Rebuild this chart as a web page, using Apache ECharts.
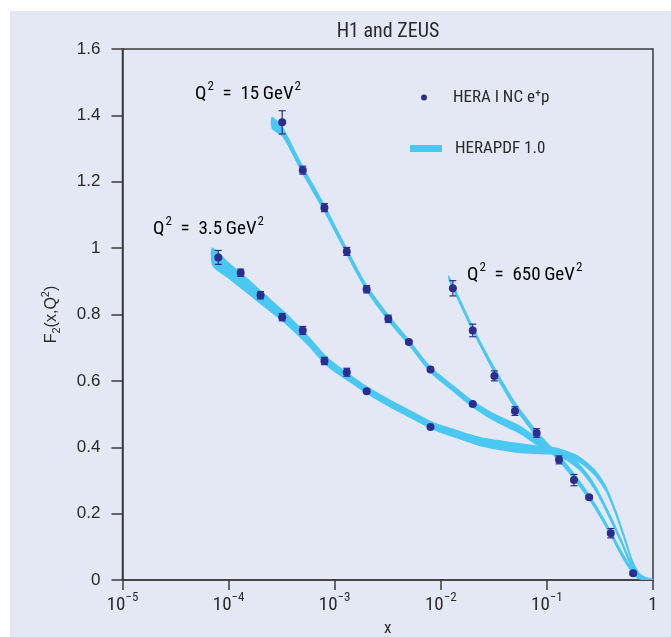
<!DOCTYPE html>
<html>
<head>
<meta charset="utf-8">
<title>F2 at HERA</title>
<script src="https://cdn.jsdelivr.net/npm/echarts@6.0.0/dist/echarts.min.js"></script>
<style>
  html, body { margin: 0; background: #ffffff; }
  #chart { position: absolute; left: 10px; top: 11px; width: 661px; height: 626px; }
</style>
</head>
<body>
<div id="chart"></div>
<script>
// ---- measured F2 points (HERA I NC e+p), value and total error ----
const x35  = [8e-5, 1.3e-4, 2e-4, 3.2e-4, 5e-4, 8e-4, 1.3e-3, 2e-3, 8e-3];
const f35  = [0.972, 0.926, 0.858, 0.792, 0.752, 0.660, 0.626, 0.569, 0.461];
const e35  = [0.021, 0.011, 0.011, 0.011, 0.012, 0.011, 0.012, 0.005, 0.004];

const x15  = [3.2e-4, 5e-4, 8e-4, 1.3e-3, 2e-3, 3.2e-3, 5e-3, 8e-3, 2e-2];
const f15  = [1.379, 1.235, 1.122, 0.990, 0.876, 0.787, 0.717, 0.634, 0.530];
const e15  = [0.035, 0.012, 0.012, 0.012, 0.011, 0.011, 0.005, 0.005, 0.005];

const x650 = [0.013, 0.02, 0.032, 0.05, 0.08, 0.13, 0.18, 0.25, 0.4, 0.65];
const f650 = [0.879, 0.752, 0.615, 0.509, 0.443, 0.362, 0.301, 0.249, 0.141, 0.020];
const e650 = [0.023, 0.019, 0.015, 0.013, 0.013, 0.012, 0.017, 0.005, 0.014, 0.005];

// ---- HERAPDF 1.0 uncertainty bands: central value and half width ----
const band35X    = [7e-5, 1e-4, 1.5e-4, 2.2e-4, 3.4e-4, 5.4e-4, 8.5e-4, 1.3e-3, 2.1e-3, 3.5e-3, 5.5e-3, 8.5e-3, 0.014, 0.023, 0.035, 0.056, 0.1, 0.13, 0.2, 0.28, 0.36, 0.45, 0.55, 0.65, 0.75, 0.85, 1];
const band35Mid  = [0.975, 0.933, 0.886, 0.841, 0.790, 0.727, 0.658, 0.614, 0.569, 0.528, 0.495, 0.464, 0.440, 0.418, 0.407, 0.397, 0.390, 0.386, 0.364, 0.325, 0.275, 0.200, 0.118, 0.048, 0.014, 0.004, 0];
const band35Half = [0.027, 0.025, 0.023, 0.021, 0.018, 0.016, 0.015, 0.013, 0.012, 0.012, 0.012, 0.012, 0.013, 0.014, 0.015, 0.015, 0.012, 0.011, 0.010, 0.010, 0.010, 0.010, 0.010, 0.009, 0.007, 0.005, 0.003];

const band15X    = [2.55e-4, 3.2e-4, 5e-4, 8e-4, 1.3e-3, 2e-3, 3.2e-3, 5e-3, 8e-3, 0.013, 0.02, 0.032, 0.056, 0.1, 0.15, 0.2, 0.25, 0.3, 0.4, 0.5, 0.6, 0.7, 0.8, 0.9, 1];
const band15Mid  = [1.378, 1.352, 1.235, 1.120, 0.990, 0.880, 0.790, 0.716, 0.634, 0.578, 0.530, 0.490, 0.452, 0.397, 0.372, 0.342, 0.305, 0.265, 0.185, 0.118, 0.058, 0.020, 0.006, 0.002, 0];
const band15Half = [0.018, 0.016, 0.014, 0.013, 0.012, 0.011, 0.011, 0.010, 0.010, 0.010, 0.011, 0.012, 0.013, 0.012, 0.011, 0.010, 0.010, 0.010, 0.010, 0.009, 0.009, 0.007, 0.005, 0.004, 0.003];

const band650X    = [0.0118, 0.013, 0.02, 0.032, 0.05, 0.08, 0.1, 0.13, 0.18, 0.25, 0.32, 0.4, 0.5, 0.6, 0.7, 0.8, 0.9, 1];
const band650Mid  = [0.912, 0.884, 0.757, 0.632, 0.527, 0.440, 0.405, 0.368, 0.312, 0.250, 0.195, 0.140, 0.082, 0.040, 0.012, 0.004, 0.001, 0];
const band650Half = [0.008, 0.010, 0.010, 0.011, 0.011, 0.011, 0.011, 0.011, 0.011, 0.010, 0.010, 0.010, 0.010, 0.009, 0.007, 0.005, 0.004, 0.003];

// axis ranges
const xMin = 1e-5, xMax = 1;
const yMin = 0, yMax = 1.6, yStep = 0.2;

const PT = '#2b2e8e';
const BAND = '#4bc8f2';
const AXIS = '#3a3a3a';
const TXT = '#2a2a2a';
const COND = "'Roboto Condensed','Liberation Sans Narrow','DejaVu Sans Condensed',sans-serif";
const REG = "'Liberation Sans',Arial,sans-serif";

function bandSeries(xs, mid, half) {
  return {
    type: 'custom',
    name: 'HERAPDF 1.0',
    coordinateSystem: 'cartesian2d',
    clip: true,
    z: 1,
    itemStyle: { color: BAND },
    data: [[xs[0], mid[0]]],
    renderItem: function (params, api) {
      const upper = xs.map((x, i) => api.coord([x, mid[i] + half[i]]));
      const lower = xs.map((x, i) => api.coord([x, mid[i] - half[i]])).reverse();
      return {
        type: 'polygon',
        shape: { points: upper.concat(lower), smooth: 0.25 },
        style: { fill: BAND }
      };
    }
  };
}

function errorSeries(xs, ys, es) {
  return {
    type: 'custom',
    name: 'HERA I NC e⁺p errors',
    coordinateSystem: 'cartesian2d',
    z: 2,
    data: xs.map((x, i) => [x, ys[i], es[i]]),
    renderItem: function (params, api) {
      const x = api.value(0), y = api.value(1), e = api.value(2);
      const hi = api.coord([x, y + e]);
      const lo = api.coord([x, y - e]);
      const w = 3.5;
      const st = { stroke: PT, lineWidth: 1.2 };
      return {
        type: 'group',
        children: [
          { type: 'line', shape: { x1: hi[0], y1: hi[1], x2: lo[0], y2: lo[1] }, style: st },
          { type: 'line', shape: { x1: hi[0] - w, y1: hi[1], x2: hi[0] + w, y2: hi[1] }, style: st },
          { type: 'line', shape: { x1: lo[0] - w, y1: lo[1], x2: lo[0] + w, y2: lo[1] }, style: st }
        ]
      };
    }
  };
}

const points = []
  .concat(x35.map((x, i) => [x, f35[i]]))
  .concat(x15.map((x, i) => [x, f15[i]]))
  .concat(x650.map((x, i) => [x, f650[i]]));

const supRich = {
  n: { fontFamily: COND, fontSize: 19, color: TXT, lineHeight: 24, verticalAlign: 'bottom' },
  s: { fontFamily: COND, fontSize: 13, color: TXT, lineHeight: 24, verticalAlign: 'top', padding: [0, 0, 0, 1] }
};

function qLabel(x, y, val) {
  return {
    type: 'text', x: x, y: y, z: 10,
    style: {
      text: '{n|Q}{s|2}{n|  =  ' + val + '\u2009GeV}{s|2}',
      rich: supRich,
      verticalAlign: 'middle'
    }
  };
}

const legendText = { fontFamily: COND, fontSize: 17, color: TXT, padding: [0, 0, 0, 8] };

const chart = echarts.init(document.getElementById('chart'), null, { renderer: 'canvas' });

chart.setOption({
  backgroundColor: '#e4e8f5',
  animation: false,
  grid: {
    left: 112.5, top: 38, right: 18, bottom: 57,
    containLabel: false, outerBoundsMode: 'none',
    show: true, borderColor: AXIS, borderWidth: 1.5, backgroundColor: 'transparent'
  },
  legend: [
    {
      data: [{ name: 'HERA I NC e⁺p', icon: 'circle' }],
      left: 406, top: 73,
      itemWidth: 32, itemHeight: 6,
      textStyle: legendText,
      selectedMode: false
    },
    {
      data: [{ name: 'HERAPDF 1.0', icon: 'rect' }],
      left: 395, top: 124,
      itemWidth: 32, itemHeight: 7,
      textStyle: legendText,
      selectedMode: false
    }
  ],
  xAxis: {
    type: 'log', logBase: 10, min: xMin, max: xMax,
    name: 'x', nameLocation: 'middle', nameGap: 37,
    nameTextStyle: { fontFamily: COND, fontSize: 17, color: TXT },
    axisLine: { show: true, lineStyle: { color: AXIS, width: 1.5 } },
    axisTick: { show: true, inside: false, length: 10, lineStyle: { color: AXIS, width: 1.5 } },
    minorTick: { show: false },
    splitLine: { show: false },
    axisLabel: {
      margin: 11,
      formatter: function (v) {
        const p = Math.round(Math.log10(v));
        return p === 0 ? '{n|1}' : '{n|10}{s|\u2212' + Math.abs(p) + '}';
      },
      rich: {
        n: { fontFamily: COND, fontSize: 19, color: TXT, lineHeight: 24, verticalAlign: 'bottom' },
        s: { fontFamily: COND, fontSize: 13, color: TXT, lineHeight: 24, verticalAlign: 'top' }
      }
    }
  },
  yAxis: {
    type: 'value', min: yMin, max: yMax, interval: yStep,
    name: '{n|F}{b|2}{n|(x,Q}{t|2}{n|)}', nameLocation: 'middle', nameGap: 60, nameRotate: 90,
    nameTextStyle: {
      rich: {
        n: { fontFamily: REG, fontSize: 16, color: TXT, lineHeight: 22, verticalAlign: 'middle' },
        b: { fontFamily: REG, fontSize: 11, color: TXT, lineHeight: 22, verticalAlign: 'bottom' },
        t: { fontFamily: REG, fontSize: 11, color: TXT, lineHeight: 22, verticalAlign: 'top' }
      }
    },
    axisLine: { show: true, lineStyle: { color: AXIS, width: 1.5 } },
    axisTick: { show: true, inside: false, length: 11, lineStyle: { color: AXIS, width: 1.5 } },
    splitLine: { show: false },
    axisLabel: {
      margin: 22, fontFamily: REG, fontSize: 17, color: TXT,
      formatter: v => String(Number(v.toFixed(1)))
    }
  },
  graphic: [
    {
      type: 'text', x: 378, y: 21, z: 10,
      style: { text: 'H1 and ZEUS', fontFamily: COND, fontSize: 20, fill: TXT, align: 'center', verticalAlign: 'middle' }
    },
    qLabel(185, 81, '15'),
    qLabel(143, 216, '3.5'),
    qLabel(457, 262, '650')
  ],
  series: [
    bandSeries(band35X, band35Mid, band35Half),
    bandSeries(band15X, band15Mid, band15Half),
    bandSeries(band650X, band650Mid, band650Half),
    errorSeries(x35, f35, e35),
    errorSeries(x15, f15, e15),
    errorSeries(x650, f650, e650),
    {
      type: 'scatter',
      name: 'HERA I NC e⁺p',
      data: points,
      symbol: 'circle',
      symbolSize: 8,
      itemStyle: { color: PT, opacity: 1 },
      z: 3
    }
  ]
});
</script>
</body>
</html>
